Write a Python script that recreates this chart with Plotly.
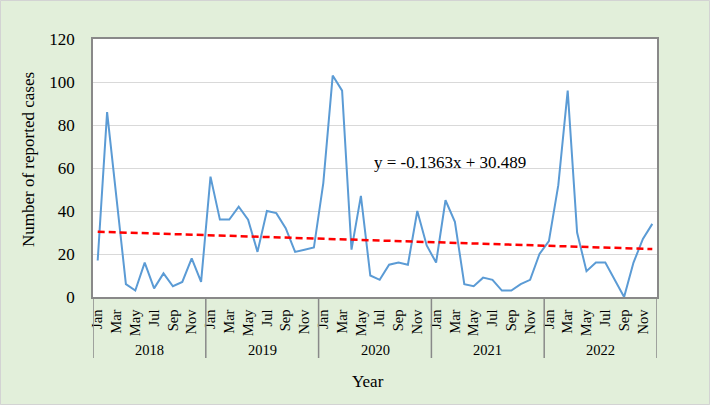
import plotly.graph_objects as go

years = ["2018", "2019", "2020", "2021", "2022"]
months = ["Jan", "Feb", "Mar", "Apr", "May", "Jun", "Jul", "Aug", "Sep", "Oct", "Nov", "Dec"]

cases_2018 = [17, 86, 46, 6, 3, 16, 4, 11, 5, 7, 18, 7]
cases_2019 = [56, 36, 36, 42, 36, 21, 40, 39, 32, 21, 22, 23]
cases_2020 = [53, 103, 96, 22, 47, 10, 8, 15, 16, 15, 40, 24]
cases_2021 = [16, 45, 35, 6, 5, 9, 8, 3, 3, 6, 8, 20]
cases_2022 = [26, 52, 96, 30, 12, 16, 16, 8, 0, 16, 27, 34]

trend_slope = -0.1363
trend_intercept = 30.489
equation_text = "y = -0.1363x + 30.489"

y_ticks = [0, 20, 40, 60, 80, 100, 120]

cases = cases_2018 + cases_2019 + cases_2020 + cases_2021 + cases_2022
n = len(cases)
xs = list(range(n))
# trend line endpoints from the displayed regression equation (x = 1..n)
trend_x = [0, n - 1]
trend_y = [trend_slope * 1 + trend_intercept, trend_slope * n + trend_intercept]

FONT = "Liberation Serif, Times New Roman, serif"
W, H = 710, 405
L, R, T, B = 93, 53, 39, 108
PW, PH = W - L - R, H - T - B


def px_x(p):
    return (p - L) / PW


def px_y(p):
    return (H - B - p) / PH


fig = go.Figure()
fig.add_trace(go.Scatter(x=xs, y=cases, mode="lines",
                         line=dict(color="#5B9BD5", width=2), hoverinfo="y"))
fig.add_trace(go.Scatter(x=trend_x, y=trend_y, mode="lines",
                         line=dict(color="#FF0000", width=2.5, dash="7px,4px"),
                         hoverinfo="skip"))

tickvals = [i for i in xs if i % 2 == 0]
ticktext = [months[i % 12] for i in tickvals]

fig.update_xaxes(range=[-0.5, n - 0.5], tickvals=tickvals, ticktext=ticktext,
                 tickangle=-90, showgrid=False, zeroline=False,
                 showline=True, linecolor="#898989", linewidth=1.5, mirror=True,
                 ticks="", ticklabelstandoff=5,
                 tickfont=dict(family=FONT, size=14.5, color="black"))
fig.update_yaxes(range=[0, 120], tickvals=y_ticks, showgrid=True,
                 gridcolor="#D9D9D9", gridwidth=1.2, zeroline=False,
                 showline=True, linecolor="#898989", linewidth=1.5, mirror=True,
                 ticks="", ticklabelstandoff=13,
                 tickfont=dict(family=FONT, size=17, color="black"))

shapes = []
# year dividers
for k in range(len(years) + 1):
    xv = k * 12 - 0.5
    shapes.append(dict(type="line", xref="x", yref="paper", x0=xv, x1=xv,
                       y0=0, y1=px_y(358), line=dict(color="#898989", width=1.5)))
# outer border
shapes.append(dict(type="rect", xref="paper", yref="paper",
                   x0=px_x(0.5), x1=px_x(W - 0.5), y0=px_y(H - 0.5), y1=px_y(0.5),
                   line=dict(color="#D3D3D3", width=1), layer="below"))

annotations = []
for k, yr in enumerate(years):
    annotations.append(dict(x=k * 12 + 5.5, y=px_y(350), xref="x", yref="paper",
                            text=yr, showarrow=False, xanchor="center", yanchor="middle",
                            font=dict(family=FONT, size=14.5, color="black")))
annotations.append(dict(x=px_x(368), y=px_y(381), xref="paper", yref="paper",
                        text="Year", showarrow=False, xanchor="center", yanchor="middle",
                        font=dict(family=FONT, size=17, color="black")))
annotations.append(dict(x=px_x(28), y=px_y(160), xref="paper", yref="paper",
                        text="Number of reported cases", showarrow=False, textangle=-90,
                        xanchor="center", yanchor="middle",
                        font=dict(family=FONT, size=17, color="black")))
annotations.append(dict(x=px_x(450), y=px_y(162), xref="paper", yref="paper",
                        text=equation_text, showarrow=False,
                        xanchor="center", yanchor="middle",
                        font=dict(family=FONT, size=17, color="black")))

fig.update_layout(width=W, height=H, margin=dict(l=L, r=R, t=T, b=B),
                  paper_bgcolor="#E2EFDA", plot_bgcolor="white",
                  showlegend=False, shapes=shapes, annotations=annotations)

fig.write_html("out.html")
